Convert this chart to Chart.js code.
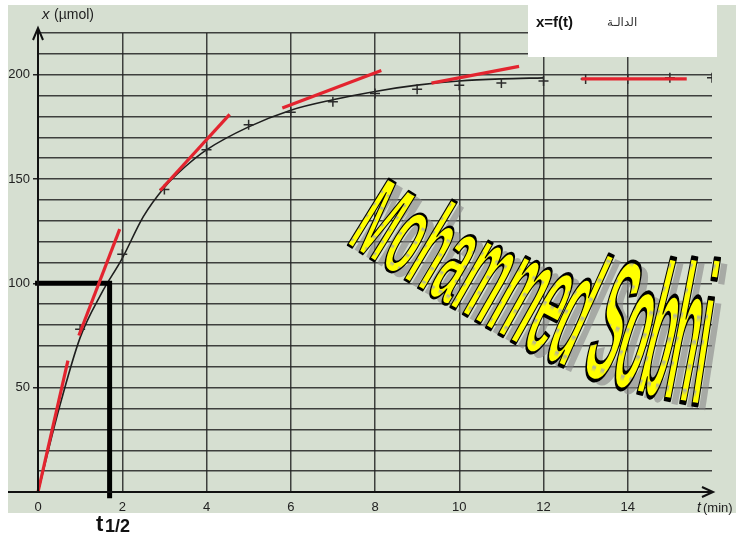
<!DOCTYPE html>
<html><head><meta charset="utf-8">
<script src="https://cdn.jsdelivr.net/npm/chart.js@4.4.1/dist/chart.umd.min.js"></script>
<style>html,body{margin:0;padding:0;background:#fff;overflow:hidden}</style>
</head><body>
<canvas id="c" width="736" height="536"></canvas>
<script>
// ---- data ----
const timeMin      = [1, 2, 3, 4, 5, 6, 7, 8, 9, 10, 11, 12, 13, 14, 15, 16];
const amountUmol   = [78, 114, 145, 164, 176, 182, 187, 191, 193, 195, 196, 197, 198, 198, 198.5, 198.5];
const curveTime    = [0, 0.5, 1, 1.5, 2, 2.5, 3, 3.5, 4, 5, 6, 7, 8, 9, 10, 11, 12];
const curveAmount  = [0, 40, 74, 95, 112, 132, 146, 156, 164, 175, 183, 188, 192, 195, 197, 198, 198.5];
const tangentStartT = [0, 0.97, 2.9, 5.8, 9.34, 12.9];
const tangentStartX = [0, 75, 144.5, 184, 196, 198];
const tangentEndT   = [0.71, 1.94, 4.55, 8.15, 11.42, 15.4];
const tangentEndX   = [63, 126, 181, 202, 204, 198];
const halfLifeT = 1.7;
const halfAmount = 100;
const yLabelValues = [50, 100, 150, 200];
const xMax = 16, yMax = 220;
const wmText = 'Mohammed Sobhi';

const pts = (xs, ys) => xs.map((x, i) => ({x, y: ys[i]}));

const datasets = [];
tangentStartT.forEach((t, i) => {
  datasets.push({
    type: 'line', data: [{x: t, y: tangentStartX[i]}, {x: tangentEndT[i], y: tangentEndX[i]}],
    borderColor: '#e3242f', borderWidth: 3.2, pointRadius: 0, order: 0, clip: false
  });
});
datasets.push({
  type: 'line', data: [{x: -0.07, y: halfAmount}, {x: halfLifeT, y: halfAmount}, {x: halfLifeT, y: -3}],
  borderColor: '#000', borderWidth: 5, pointRadius: 0, order: 1, clip: false, borderJoinStyle: 'miter'
});
datasets.push({
  type: 'scatter', data: pts(timeMin, amountUmol), showLine: false,
  pointStyle: 'cross', pointRadius: 5, borderColor: '#2b2b2b', borderWidth: 1.5, order: 2
});
datasets.push({
  type: 'line', data: pts(curveTime, curveAmount), borderColor: '#1e1e1e', borderWidth: 1.6,
  pointRadius: 0, cubicInterpolationMode: 'monotone', order: 3
});

function drawWatermark(ctx) {
  ctx.save();
  const fs = 72;
  ctx.font = 'bold ' + fs + 'px "Liberation Sans Narrow","Liberation Sans",Arial,sans-serif';
  ctx.textBaseline = 'alphabetic';
  const chars = [...wmText];
  const ws = chars.map(c => ctx.measureText(c).width);
  const total = ws.reduce((a, b) => a + b, 0);
  const targetLen = 395;
  const sx = targetLen / total;
  const pc = document.createElement('canvas'); pc.width = 14; pc.height = 9;
  const p = pc.getContext('2d');
  p.fillStyle = '#ffff00'; p.fillRect(0, 0, 14, 9);
  p.fillStyle = '#b4b49a'; p.fillRect(3, 4, 6, 1.5);
  const pat = ctx.createPattern(pc, 'repeat');
  let x = 345, y = 243, s = 0;
  const pos = [];
  chars.forEach((c, i) => {
    const adv = ws[i] * sx;
    const f = (s + adv / 2) / targetLen;
    const th = (32 - 6 * f - 36 * Math.max(0, f - 0.5)) * Math.PI / 180;
    const sy = 1.5 + 1.35 * f;
    pos.push({c, x, y, th, sy});
    x += adv * Math.cos(th); y += adv * Math.sin(th); s += adv;
  });
  pos.forEach(o => {
    ctx.save(); ctx.translate(o.x + 7, o.y + 5); ctx.rotate(o.th); ctx.scale(sx, o.sy);
    ctx.fillStyle = 'rgba(135,135,135,0.6)'; ctx.fillText(o.c, 0, 0); ctx.restore();
  });
  pos.forEach(o => {
    ctx.save(); ctx.translate(o.x, o.y); ctx.rotate(o.th); ctx.scale(sx, o.sy);
    ctx.fillStyle = pat; ctx.fillText(o.c, 0, 0);
    ctx.lineWidth = 1.6; ctx.lineJoin = 'round'; ctx.strokeStyle = '#000'; ctx.strokeText(o.c, 0, 0);
    ctx.restore();
  });
  ctx.restore();
}

const decor = {
  id: 'decor',
  beforeDraw(chart) {
    const ctx = chart.ctx;
    ctx.save();
    ctx.fillStyle = '#fff'; ctx.fillRect(0, 0, 736, 536);
    ctx.fillStyle = '#d6dfd1'; ctx.fillRect(8, 5, 728, 508);
    ctx.restore();
  },
  afterDraw(chart) {
    const ctx = chart.ctx;
    const xs = chart.scales.x, ys = chart.scales.y;
    const x0 = xs.getPixelForValue(0), y0 = ys.getPixelForValue(0);
    const yTop = ys.getPixelForValue(yMax), xRight = xs.getPixelForValue(xMax);
    ctx.save();
    ctx.strokeStyle = '#111'; ctx.lineWidth = 2;
    ctx.beginPath(); ctx.moveTo(x0, y0 + 1); ctx.lineTo(x0, yTop - 5); ctx.stroke();
    ctx.beginPath(); ctx.moveTo(x0 - 5, yTop + 7); ctx.lineTo(x0, yTop - 5); ctx.lineTo(x0 + 5, yTop + 7); ctx.stroke();
    ctx.beginPath(); ctx.moveTo(8, y0); ctx.lineTo(xRight + 1, y0); ctx.stroke();
    ctx.beginPath(); ctx.moveTo(xRight - 10, y0 - 5); ctx.lineTo(xRight + 1, y0); ctx.lineTo(xRight - 10, y0 + 5); ctx.stroke();

    ctx.fillStyle = '#222'; ctx.textBaseline = 'alphabetic'; ctx.textAlign = 'left';
    ctx.font = 'italic 15px "Liberation Sans",Arial,sans-serif';
    ctx.fillText('x', 42, 19);
    ctx.font = '14px "Liberation Sans",Arial,sans-serif';
    ctx.fillText('(µmol)', 54, 19);
    ctx.font = 'italic 14px "Liberation Sans",Arial,sans-serif';
    ctx.fillText('t', 697, 512);
    ctx.font = '13px "Liberation Sans",Arial,sans-serif';
    ctx.fillText('(min)', 703, 512);

    ctx.fillStyle = '#111';
    ctx.font = 'bold 22px "Liberation Sans",Arial,sans-serif';
    ctx.fillText('t', 96, 531);
    ctx.font = 'bold 18px "Liberation Sans",Arial,sans-serif';
    ctx.fillText('1/2', 105, 532);

    ctx.fillStyle = '#fff'; ctx.fillRect(528, 0, 189, 57);
    ctx.fillStyle = '#111';
    ctx.font = 'bold 15px "Liberation Sans",Arial,sans-serif';
    ctx.fillText('x=f(t)', 536, 27);
    ctx.font = '12px "DejaVu Sans","Noto Sans",sans-serif';
    ctx.fillStyle = '#333';
    ctx.fillText('الدالـة', 607, 26);
    ctx.restore();
    drawWatermark(ctx);
  }
};

new Chart(document.getElementById('c'), {
  data: {datasets},
  options: {
    responsive: false, animation: false, devicePixelRatio: 1,
    layout: {padding: {left: 0, right: 24, top: 33, bottom: 0}},
    plugins: {legend: {display: false}, tooltip: {enabled: false}},
    scales: {
      x: {
        type: 'linear', min: 0, max: xMax,
        ticks: {stepSize: 2, autoSkip: false, padding: 8, color: '#222',
          font: {size: 13, family: '"Liberation Sans",Arial,sans-serif'},
          callback: v => (v === xMax ? '' : String(v))},
        grid: {drawTicks: false, lineWidth: 1.5,
          color: c => (c.tick && (c.tick.value === 0 || c.tick.value === xMax)) ? 'rgba(0,0,0,0)' : 'rgba(35,35,35,0.85)'},
        border: {display: false},
        afterFit: s => { s.height = 44; }
      },
      y: {
        type: 'linear', min: 0, max: yMax,
        ticks: {stepSize: 10, autoSkip: false, padding: 3, color: '#222',
          font: {size: 13, family: '"Liberation Sans",Arial,sans-serif'},
          callback: v => (yLabelValues.includes(v) ? String(v) : '')},
        grid: {lineWidth: 1.5, tickLength: 5,
          color: c => (c.tick && c.tick.value === 0) ? 'rgba(0,0,0,0)' : 'rgba(35,35,35,0.85)',
          tickColor: c => (c.tick && yLabelValues.includes(c.tick.value)) ? '#222' : 'rgba(0,0,0,0)'},
        border: {display: false},
        afterFit: s => { s.width = 38; }
      }
    }
  },
  plugins: [decor]
});
</script>
</body></html>
